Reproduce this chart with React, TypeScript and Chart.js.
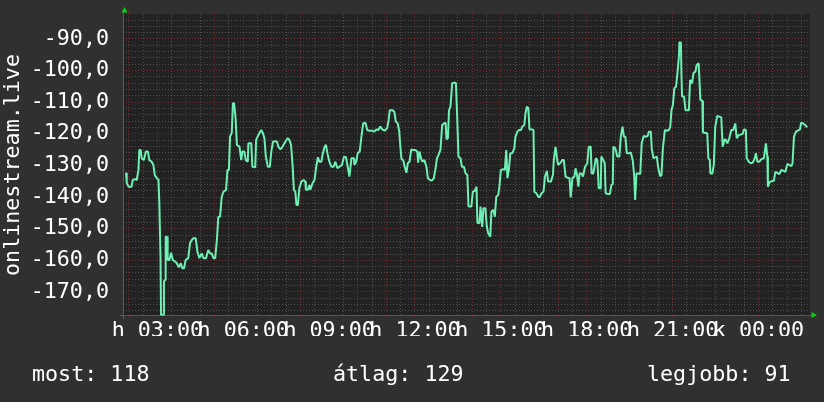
import { useEffect, useRef } from "react";
import { Chart, registerables } from "chart.js";

Chart.register(...registerables);

// time of each sample, in hours since midnight of day "h" (24+ = next day "k")
const sampleHours = [
  1.905, 1.93, 1.99, 2.10, 2.14, 2.22, 2.28, 2.34, 2.37, 2.42,
  2.45, 2.53, 2.60, 2.67, 2.72, 2.80, 2.86, 2.91, 2.98, 3.04,
  3.07, 3.11, 3.13, 3.21, 3.23, 3.27, 3.29, 3.34, 3.36, 3.42,
  3.48, 3.54, 3.62, 3.68, 3.75, 3.82, 3.87, 3.93, 3.99, 4.08,
  4.14, 4.20, 4.26, 4.34, 4.40, 4.47, 4.55, 4.61, 4.70, 4.78,
  4.84, 4.90, 4.96, 5.02, 5.08, 5.13, 5.19, 5.25, 5.31, 5.40,
  5.45, 5.50, 5.54, 5.60, 5.64, 5.68, 5.73, 5.78, 5.87,
  5.93, 5.97, 6.04, 6.09, 6.16, 6.18, 6.28, 6.32, 6.42, 6.45,
  6.53, 6.63, 6.69, 6.74, 6.79, 6.86, 6.93, 6.98, 7.04, 7.12,
  7.18, 7.23, 7.30, 7.37, 7.47, 7.55, 7.61, 7.67, 7.72, 7.77,
  7.82, 7.86, 7.91, 7.96, 8.03, 8.11, 8.17, 8.19, 8.26, 8.31,
  8.35, 8.42, 8.49, 8.55, 8.61, 8.66, 8.73, 8.77, 8.84, 8.89,
  8.94, 9.01, 9.08, 9.16, 9.22, 9.29, 9.36, 9.45, 9.52, 9.59,
  9.66, 9.71, 9.78, 9.87,
  9.88, 9.95, 10.00, 10.07, 10.13, 10.19, 10.27, 10.33, 10.42, 10.50,
  10.58, 10.65, 10.72, 10.79, 10.86, 10.94, 11.03, 11.08, 11.12, 11.21,
  11.28, 11.33, 11.40, 11.45, 11.49, 11.53, 11.59, 11.64, 11.70, 11.75,
  11.81, 11.87, 11.94, 12.01, 12.08, 12.11, 12.16, 12.21, 12.26, 12.33,
  12.40, 12.45, 12.52, 12.59, 12.66, 12.71, 12.77, 12.82, 12.89, 12.95,
  13.01, 13.07, 13.10, 13.15, 13.19, 13.24, 13.30, 13.38, 13.43, 13.47,
  13.52, 13.59, 13.64, 13.71, 13.77, 13.83, 13.87,
  13.97, 14.02, 14.09, 14.15, 14.18, 14.25, 14.29, 14.35, 14.39, 14.46,
  14.51, 14.56, 14.63, 14.67, 14.74, 14.79, 14.84, 14.91, 14.95, 15.00,
  15.07, 15.14, 15.19, 15.23, 15.28, 15.33, 15.40, 15.47, 15.51, 15.58,
  15.63, 15.70, 15.75, 15.82, 15.86, 15.91, 15.96, 16.00, 16.10, 16.14,
  16.17, 16.24, 16.31, 16.35, 16.42, 16.49, 16.54, 16.61, 16.65, 16.75,
  16.82, 16.85, 16.91, 16.96, 17.00, 17.07, 17.15, 17.20, 17.26, 17.36,
  17.40, 17.44, 17.50, 17.57, 17.61, 17.66, 17.71, 17.75, 17.82, 17.87,
  17.94, 18.02, 18.07, 18.14, 18.17, 18.23, 18.28, 18.32, 18.37, 18.42,
  18.49, 18.51, 18.58, 18.63, 18.66, 18.74, 18.81, 18.86, 18.91, 18.93,
  19.00, 19.07, 19.14, 19.19, 19.25, 19.30, 19.35, 19.40, 19.48, 19.54,
  19.61, 19.66, 19.69, 19.74, 19.80, 19.87, 19.92, 19.99, 20.06, 20.13,
  20.17, 20.24, 20.27, 20.33, 20.45, 20.49, 20.56, 20.61, 20.66, 20.73,
  20.80, 20.87, 20.92, 20.96, 21.01, 21.06, 21.12, 21.17, 21.22, 21.24,
  21.29, 21.31, 21.33, 21.40, 21.45, 21.57, 21.61, 21.68, 21.73, 21.80,
  21.84, 21.91,
  21.97, 22.04, 22.06, 22.21, 22.25, 22.30, 22.32, 22.39, 22.44, 22.49,
  22.56, 22.70, 22.75, 22.82, 22.86, 22.91, 22.98, 23.05, 23.12, 23.19,
  23.24, 23.31, 23.45, 23.49, 23.56, 23.59, 23.66, 23.73, 23.80, 23.87,
  23.91, 23.96, 24.03, 24.10, 24.19, 24.26, 24.31, 24.33, 24.40, 24.54,
  24.59, 24.73, 24.80, 24.94, 25.01, 25.15, 25.19, 25.24, 25.31, 25.45,
  25.49, 25.56, 25.63, 25.70,
];

// onlinestream.live signal level
const signalValues = [
  -132.3, -135.5, -136.7, -136.7, -134.6, -134.3, -134.6, -131.4, -125.1, -125.1,
  -127.7, -128.3, -125.6, -125.6, -128.3, -128.8, -129.8, -133.0, -134.0, -134.6,
  -142.0, -158.8, -177.3, -177.3, -166.7, -166.2, -152.5, -152.5, -159.9, -159.9,
  -157.6, -159.9, -160.4, -160.9, -162.2, -160.9, -162.5, -162.5, -159.9, -159.3,
  -154.6, -153.6, -153.0, -153.0, -157.3, -159.3, -157.8, -159.3, -159.3, -156.7,
  -157.8, -157.8, -159.3, -159.3, -153.6, -146.2, -146.2, -139.9, -138.3, -137.7,
  -131.4, -131.4, -120.9, -119.7, -110.3, -110.3, -114.6, -123.5, -124.1,
  -128.3, -125.6, -125.6, -128.3, -128.8, -123.0, -123.0, -130.4, -130.6, -121.9,
  -120.4, -118.8, -119.8, -121.4, -127.2, -130.4, -130.4, -125.6, -122.5, -122.3,
  -122.5, -124.1, -124.9, -124.1, -122.5, -121.4, -121.9, -123.5, -129.3, -137.7,
  -138.3, -142.5, -142.5, -137.2, -135.1, -134.6, -135.1, -137.7, -137.7, -136.2,
  -137.7, -135.6, -134.6, -130.4, -127.4, -128.8, -128.8, -126.7, -124.1, -123.5,
  -126.1, -128.8, -130.4, -130.4, -128.8, -130.9, -130.4, -129.8, -127.2, -127.4,
  -130.9, -133.5, -127.7, -127.7,
  -129.8, -128.8, -126.1, -125.6, -120.9, -116.7, -116.5, -118.8, -119.0, -119.0,
  -119.3, -118.6, -118.8, -117.7, -118.6, -119.0, -118.2, -115.6, -112.5, -112.5,
  -113.0, -116.1, -116.7, -119.3, -124.1, -128.0, -128.3, -130.4, -132.3, -129.3,
  -128.8, -124.9, -125.1, -125.1, -125.6, -129.1, -125.6, -127.7, -128.8, -128.3,
  -130.4, -134.0, -134.6, -134.8, -134.0, -131.4, -127.7, -126.7, -125.1, -117.2,
  -116.7, -116.5, -121.7, -121.4, -112.5, -111.4, -104.0, -103.8, -104.0, -113.5,
  -127.2, -127.7, -130.4, -130.4, -132.5, -133.0, -143.0,
  -143.0, -138.3, -138.0, -136.7, -148.1, -148.3, -143.0, -149.4, -143.5, -143.5,
  -149.4, -151.4, -152.5, -144.6, -144.1, -146.2, -139.9, -139.3, -136.7, -131.4,
  -131.2, -131.4, -125.1, -134.0, -131.4, -126.1, -126.1, -124.6, -120.9, -119.3,
  -118.8, -118.8, -117.7, -117.2, -113.5, -111.4, -111.9, -118.6, -118.6, -118.8,
  -138.3, -138.8, -139.9, -140.1, -138.8, -138.3, -133.5, -131.7, -135.1, -135.1,
  -133.0, -128.3, -124.1, -127.7, -129.8, -129.3, -128.3, -128.3, -133.5, -134.0,
  -134.0, -140.1, -134.0, -133.5, -130.9, -133.0, -136.7, -132.5, -132.5, -133.5,
  -130.4, -129.3, -124.1, -124.1, -132.5, -132.5, -129.8, -127.7, -128.3, -137.2,
  -137.2, -127.2, -128.3, -129.3, -138.8, -139.0, -139.0, -136.2, -135.9, -124.1,
  -124.6, -127.2, -127.2, -120.9, -117.7, -120.9, -120.9, -126.1, -126.1, -125.9,
  -128.5, -133.5, -140.9, -132.5, -132.5, -132.7, -123.0, -120.7, -120.9, -120.7,
  -119.3, -119.3, -124.6, -127.7, -127.2, -130.4, -133.3, -133.2, -124.6, -118.8,
  -119.0, -118.8, -117.7, -112.5, -110.9, -105.6, -105.1, -100.8, -95.6, -91.0,
  -91.2, -101.4, -108.2, -108.2, -112.5, -112.5, -103.0, -104.0, -100.8, -100.3,
  -98.2, -97.7,
  -109.3, -109.5, -119.6, -119.8, -127.7, -128.3, -132.5, -132.5, -129.8, -117.7,
  -114.3, -114.8, -124.1, -121.7, -121.9, -123.0, -121.4, -118.8, -118.8, -116.7,
  -121.4, -120.4, -120.0, -118.6, -118.8, -127.7, -128.8, -129.3, -129.1, -127.7,
  -126.1, -128.8, -128.8, -128.0, -127.7, -123.0, -127.2, -136.7, -135.1, -134.8,
  -132.0, -132.7, -131.4, -132.0, -129.5, -130.2, -129.3, -120.9, -119.3, -118.6,
  -116.5, -116.7, -117.2, -117.9,
];

const hourTicks = [3, 6, 9, 12, 15, 18, 21, 24];
const hourTickLabels = ["h 03:00", "h 06:00", "h 09:00", "h 12:00", "h 15:00", "h 18:00", "h 21:00", "k 00:00"];
const valueTicks = [-170, -160, -150, -140, -130, -120, -110, -100, -90];
const summaryTexts = ["most: 118", "átlag: 129", "legjobb: 91"];
const axisTitle = "onlinestream.live";

const X_MIN = 1.8;
const X_MAX = 25.8;
const Y_MIN = -177.6;
const Y_MAX = -82.1;

const FONT = '"DejaVu Sans Mono", monospace';
const FONT_SIZE = 21.7;
const MAJOR_GRID = "rgba(190,60,60,0.5)";
const MINOR_GRID = "rgba(150,150,150,0.4)";
const DASH = [1, 2];

const decorPlugin = {
  id: "decor",
  beforeDraw(chart: any) {
    const { ctx, chartArea: a, width, height } = chart;
    ctx.save();
    ctx.fillStyle = "#303030";
    ctx.fillRect(0, 0, width, height);
    ctx.fillStyle = "#222222";
    ctx.fillRect(a.left, a.top, a.right - a.left, a.bottom - a.top);
    ctx.restore();
  },
  afterDraw(chart: any) {
    const { ctx, chartArea: a } = chart;
    ctx.save();
    // axis lines
    ctx.strokeStyle = "rgba(130,130,130,0.55)";
    ctx.lineWidth = 1;
    ctx.beginPath();
    ctx.moveTo(a.left + 0.5, a.top - 2);
    ctx.lineTo(a.left + 0.5, a.bottom + 3);
    ctx.moveTo(a.left - 3, a.bottom - 0.5);
    ctx.lineTo(a.right + 2, a.bottom - 0.5);
    ctx.stroke();
    // arrows
    ctx.fillStyle = "#11cc11";
    ctx.beginPath();
    ctx.moveTo(a.left + 1.5, a.top - 7);
    ctx.lineTo(a.left - 1.5, a.top - 1.5);
    ctx.lineTo(a.left + 4.5, a.top - 1.5);
    ctx.closePath();
    ctx.fill();
    ctx.beginPath();
    ctx.moveTo(a.right + 7, a.bottom - 1);
    ctx.lineTo(a.right + 1.5, a.bottom - 4);
    ctx.lineTo(a.right + 1.5, a.bottom + 2);
    ctx.closePath();
    ctx.fill();
    // texts
    ctx.fillStyle = "#ffffff";
    ctx.font = `${FONT_SIZE}px ${FONT}`;
    ctx.textBaseline = "alphabetic";
    ctx.textAlign = "left";
    const xs = [32, 333, 647];
    summaryTexts.forEach((t, i) => ctx.fillText(t, xs[i], 380.5));
    ctx.translate(18.5, 165);
    ctx.rotate(-Math.PI / 2);
    ctx.textAlign = "center";
    ctx.fillText(axisTitle, 0, 0);
    ctx.restore();
  },
};

const range = (from: number, to: number, step: number) => {
  const out: number[] = [];
  for (let v = from; v <= to + 1e-9; v += step) out.push(Math.round(v * 100) / 100);
  return out;
};

export default function App() {
  const ref = useRef<HTMLCanvasElement | null>(null);

  useEffect(() => {
    if (!ref.current) return;
    const n = Math.min(sampleHours.length, signalValues.length);
    const points = [];
    for (let i = 0; i < n; i++) points.push({ x: sampleHours[i], y: signalValues[i] });

    const fontOpt = { family: FONT, size: FONT_SIZE };

    const chart = new Chart(ref.current, {
      type: "line",
      data: {
        datasets: [
          {
            data: points,
            borderColor: "#6ef0b4",
            borderWidth: 2,
            pointRadius: 0,
            fill: false,
            tension: 0,
            borderJoinStyle: "bevel",
            xAxisID: "x",
            yAxisID: "y",
          },
        ],
      },
      options: {
        animation: false,
        responsive: false,
        maintainAspectRatio: false,
        events: [],
        layout: { padding: { left: 0, top: 14, right: 14, bottom: 66 } },
        plugins: { legend: { display: false }, tooltip: { enabled: false } },
        scales: {
          x2: {
            type: "linear",
            position: "bottom",
            min: X_MIN,
            max: X_MAX,
            z: -1,
            afterBuildTicks: (s: any) => {
              s.ticks = range(2.5, 25.5, 1).map((v) => ({ value: v }));
            },
            afterFit: (s: any) => {
              s.height = 0;
              s.paddingLeft = 0;
              s.paddingRight = 0;
            },
            ticks: { display: false },
            grid: { color: MINOR_GRID, drawTicks: false, lineWidth: 1 },
            border: { display: false, dash: DASH },
          },
          x: {
            type: "linear",
            position: "bottom",
            min: X_MIN,
            max: X_MAX,
            afterBuildTicks: (s: any) => {
              s.ticks = range(2, 25, 1).map((v) => ({ value: v }));
            },
            afterFit: (s: any) => {
              s.height = 20;
              s.paddingLeft = 0;
              s.paddingRight = 0;
            },
            ticks: {
              autoSkip: false,
              maxRotation: 0,
              minRotation: 0,
              padding: 2,
              color: "#ffffff",
              font: fontOpt,
              callback: (v: any) => {
                const i = hourTicks.indexOf(Number(v));
                return i >= 0 ? hourTickLabels[i] : "";
              },
            },
            grid: { color: MAJOR_GRID, drawTicks: false, lineWidth: 1 },
            border: { display: false, dash: DASH },
          },
          y2: {
            type: "linear",
            position: "left",
            min: Y_MIN,
            max: Y_MAX,
            z: -1,
            afterBuildTicks: (s: any) => {
              s.ticks = range(-176, -84, 2)
                .filter((v) => Math.abs(v % 10) > 1e-6)
                .map((v) => ({ value: v }));
            },
            afterFit: (s: any) => {
              s.width = 0;
              s.paddingTop = 0;
              s.paddingBottom = 0;
            },
            ticks: { display: false },
            grid: { color: MINOR_GRID, drawTicks: false, lineWidth: 1 },
            border: { display: false, dash: DASH },
          },
          y: {
            type: "linear",
            position: "left",
            min: Y_MIN,
            max: Y_MAX,
            afterBuildTicks: (s: any) => {
              s.ticks = valueTicks.map((v) => ({ value: v }));
            },
            afterFit: (s: any) => {
              s.width = 123;
              s.paddingTop = 0;
              s.paddingBottom = 0;
            },
            ticks: {
              padding: 14,
              color: "#ffffff",
              font: fontOpt,
              callback: (v: any) => Number(v).toFixed(1).replace(".", ","),
            },
            grid: { color: MAJOR_GRID, drawTicks: false, lineWidth: 1 },
            border: { display: false, dash: DASH },
          },
        },
      } as any,
      plugins: [decorPlugin],
    });
    return () => chart.destroy();
  }, []);

  return (
    <div style={{ position: "absolute", left: 0, top: 0, width: 824, height: 402 }}>
      <canvas ref={ref} width={824} height={402} style={{ width: 824, height: 402, display: "block" }} />
    </div>
  );
}
